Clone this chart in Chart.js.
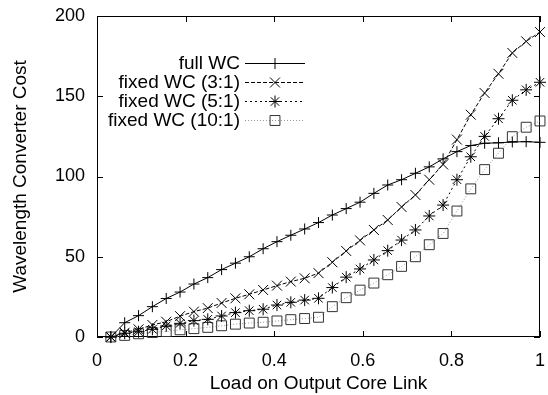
<!DOCTYPE html>
<html>
<head>
<meta charset="utf-8">
<script src="https://cdn.jsdelivr.net/npm/chart.js@4.4.1/dist/chart.umd.min.js"></script>
<style>
  html, body { margin: 0; padding: 0; background: #fff; }
  canvas { display: block; }
</style>
</head>
<body>
<canvas id="myChart" width="548" height="395"></canvas>
<script>
// Carga sobre el enlace de salida (eje x)
const cargas = [0.03125, 0.0625, 0.09375, 0.125, 0.15625, 0.1875, 0.21875, 0.25,
    0.28125, 0.3125, 0.34375, 0.375, 0.40625, 0.4375, 0.46875, 0.5,
    0.53125, 0.5625, 0.59375, 0.625, 0.65625, 0.6875, 0.71875, 0.75,
    0.78125, 0.8125, 0.84375, 0.875, 0.90625, 0.9375, 0.96875, 1.0];

// Costo de conversores para cada configuración
const fullWC = [0, 8.9, 13.3, 18.9, 24, 28, 33, 37, 42, 46, 50, 55, 59.4, 63.4, 67.3, 71.3,
    76, 80, 84, 89.5, 94.7, 98, 102, 106, 111, 115.5, 119.3, 120.7, 121, 121.5, 121.7, 121.3];
const fixedWC3 = [0, 2.7, 4.8, 7.5, 9.5, 13, 15.8, 18, 21.2, 24.1, 26.6, 29.3, 32, 34.5, 36.6, 39.8,
    46.6, 53.6, 60.2, 66.7, 72.9, 81, 88.5, 98, 107.5, 123, 138.5, 152, 164, 177, 184.2, 190];
const fixedWC5 = [0, 2.3, 3.3, 4.8, 6.9, 8.5, 10.2, 11, 13.1, 15.2, 16.4, 17.3, 19.9, 21.6, 23, 24.1,
    30.8, 37.3, 42.4, 48, 53.8, 60.4, 66.7, 75.4, 82.2, 98, 112.3, 125, 136, 147.5, 154, 158.7];
const fixedWC10 = [0, 1, 2, 2.8, 3.4, 4.5, 5.2, 6, 7, 8, 8.7, 9.2, 10, 10.8, 11.5, 12.3,
    18.9, 24.5, 29.2, 33.6, 38.8, 44, 50, 57.5, 64.5, 78.5, 92.3, 104.3, 114.5, 124.8, 130.7, 134.6];

const etiquetas = ['full WC', 'fixed WC (3:1)', 'fixed WC (5:1)', 'fixed WC (10:1)'];
const ticksX = [0, 0.2, 0.4, 0.6, 0.8, 1];
const ticksY = [0, 50, 100, 150, 200];

const familia = "'Liberation Sans', Arial, sans-serif";
const fuente = { family: familia, size: 18 };
const fuenteTitulo = { family: familia, size: 19 };

function puntos(serie) {
    return cargas.map((c, i) => ({ x: c, y: serie[i] }));
}

// Marco con marcas hacia adentro, estilo gnuplot
const marcoPlugin = {
    id: 'marco',
    beforeDatasetsDraw(chart) {
        const { ctx, chartArea: a, scales: { x, y } } = chart;
        ctx.save();
        ctx.strokeStyle = '#000';
        ctx.lineWidth = 1;
        ctx.setLineDash([]);
        ctx.strokeRect(a.left + 0.5, a.top + 0.5, a.right - a.left - 1, a.bottom - a.top - 1);
        ctx.beginPath();
        ticksX.forEach(v => {
            const px = Math.round(x.getPixelForValue(v)) + 0.5;
            ctx.moveTo(px, a.bottom); ctx.lineTo(px, a.bottom - 6);
            ctx.moveTo(px, a.top); ctx.lineTo(px, a.top + 6);
        });
        ticksY.forEach(v => {
            const py = Math.round(y.getPixelForValue(v)) + 0.5;
            ctx.moveTo(a.left, py); ctx.lineTo(a.left + 6, py);
            ctx.moveTo(a.right, py); ctx.lineTo(a.right - 6, py);
        });
        ctx.stroke();
        ctx.restore();
    },
    afterDraw(chart) {
        // leyenda: texto alineado a la derecha y muestra de línea a su derecha
        const { ctx } = chart;
        ctx.save();
        ctx.font = fuenteTitulo.size + 'px ' + fuenteTitulo.family;
        ctx.textAlign = 'right';
        ctx.textBaseline = 'middle';
        chart.data.datasets.forEach((ds, i) => {
            const yy = 63 + i * 19;
            ctx.fillStyle = '#000';
            ctx.fillText(ds.label, 240, yy + 1);
            ctx.strokeStyle = ds.borderColor;
            ctx.lineWidth = 1;
            ctx.setLineDash(ds.borderDash || []);
            ctx.beginPath();
            ctx.moveTo(245, yy + 0.5);
            ctx.lineTo(305, yy + 0.5);
            ctx.stroke();
            ctx.setLineDash([]);
            ctx.strokeStyle = ds.pointBorderColor;
            ctx.fillStyle = 'rgba(0,0,0,0)';
            Chart.helpers.drawPoint(ctx, {
                pointStyle: ds.pointStyle, radius: ds.pointRadius, rotation: 0, borderWidth: 1
            }, 275, yy + 0.5);
        });
        ctx.restore();
    }
};

const ctx = document.getElementById('myChart').getContext('2d');
const myChart = new Chart(ctx, {
    type: 'line',
    data: {
        datasets: [
            {
                label: etiquetas[0], data: puntos(fullWC),
                borderColor: '#000', pointBorderColor: '#000', pointStyle: 'cross', pointRadius: 5.5
            },
            {
                label: etiquetas[1], data: puntos(fixedWC3), borderDash: [4, 2],
                borderColor: '#000', pointBorderColor: '#000', pointStyle: 'crossRot', pointRadius: 7
            },
            {
                label: etiquetas[2], data: puntos(fixedWC5), borderDash: [2, 3],
                borderColor: '#000', pointBorderColor: '#000', pointStyle: 'star', pointRadius: 6
            },
            {
                label: etiquetas[3], data: puntos(fixedWC10), borderDash: [1, 2],
                borderColor: '#999', pointBorderColor: '#333', pointStyle: 'rect', pointRadius: 7
            }
        ].map(ds => Object.assign({
            borderWidth: 1, pointBorderWidth: 1, pointBackgroundColor: 'rgba(0,0,0,0)',
            tension: 0, fill: false, clip: false, pointHoverRadius: 0
        }, ds))
    },
    options: {
        responsive: false,
        animation: false,
        devicePixelRatio: 1,
        layout: { padding: { top: 16, right: 3, bottom: 0, left: 0 } },
        plugins: {
            legend: { display: false },
            tooltip: { enabled: false }
        },
        scales: {
            x: {
                type: 'linear', min: 0, max: 1,
                grid: { display: false }, border: { display: false },
                afterBuildTicks: s => { s.ticks = ticksX.map(v => ({ value: v })); },
                ticks: {
                    color: '#000', font: fuente, padding: 5, maxRotation: 0, autoSkip: false,
                    callback: v => String(Math.round(v * 10) / 10)
                },
                title: {
                    display: true, text: 'Load on Output Core Link', color: '#000',
                    font: fuenteTitulo, padding: { top: 0, bottom: 0 }
                },
                afterFit: s => { s.height = 58; s.paddingLeft = 0; s.paddingRight = 0; }
            },
            y: {
                type: 'linear', min: 0, max: 200,
                grid: { display: false }, border: { display: false },
                afterBuildTicks: s => { s.ticks = ticksY.map(v => ({ value: v })); },
                ticks: { color: '#000', font: fuente, padding: 4, autoSkip: false },
                title: {
                    display: true, text: 'Wavelength Converter Cost', color: '#000',
                    font: fuenteTitulo, padding: { top: 9, bottom: 0 }
                },
                afterFit: s => { s.width = 97; s.paddingTop = 0; s.paddingBottom = 0; }
            }
        }
    },
    plugins: [marcoPlugin]
});
</script>
</body>
</html>
